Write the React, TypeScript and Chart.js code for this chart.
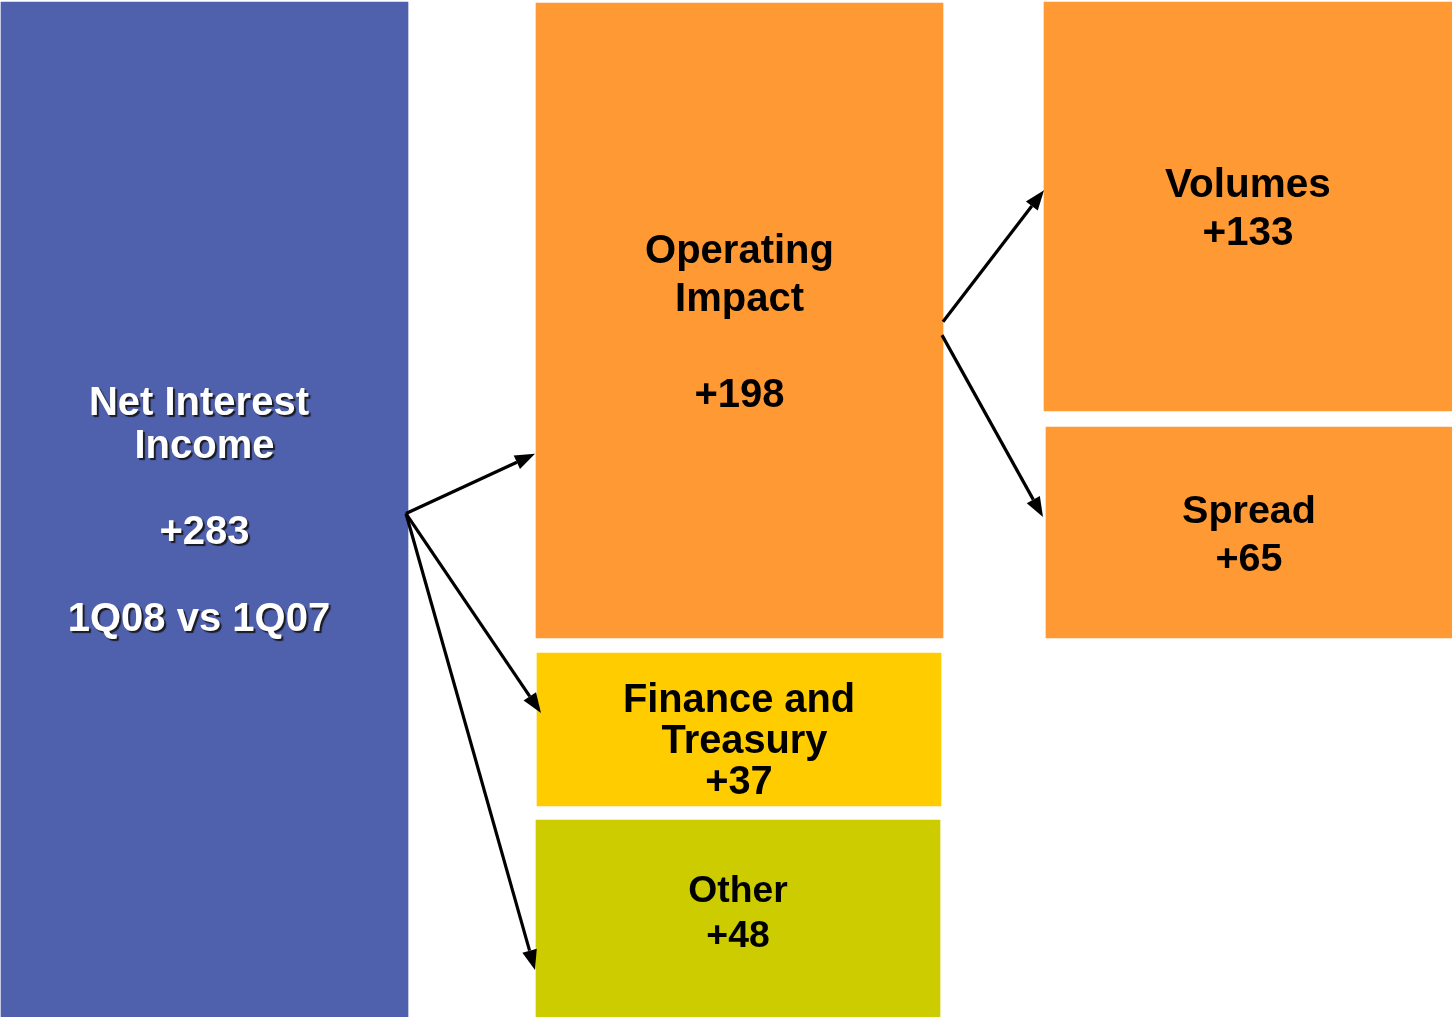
import React, { useEffect, useRef } from "react";
import { Chart, registerables } from "chart.js";

Chart.register(...registerables);

// ---- data ----
const boxNames = ["Net Interest Income", "Operating Impact", "Finance and Treasury", "Other", "Volumes", "Spread"];
const boxValues = [283, 198, 37, 48, 133, 65];
const boxLabelLines = [
  ["Net Interest ", "Income", "", "+283", "", "1Q08 vs 1Q07 "],
  ["Operating", "Impact", "", "+198"],
  ["Finance and", " Treasury", "+37"],
  ["Other", "+48"],
  ["Volumes", "+133"],
  ["Spread", "+65"],
];
// box extents in chart units (x: 0..1452, y: 0..1017 top-down)
const boxLeft = [1, 536, 537, 536, 1044, 1046];
const boxRight = [408, 943, 941, 940, 1452, 1452];
const boxTop = [2, 3, 653, 820, 2, 427];
const boxBottom = [1017, 638, 806, 1017, 411, 638];
// decomposition links: [source, target]
const linkSource = [0, 0, 0, 1, 1];
const linkTarget = [1, 2, 3, 4, 5];

// ---- styles ----
const boxColors = ["#4F60AD", "#FF9933", "#FFCC00", "#CCCC00", "#FF9933", "#FF9933"];
const textColors = ["#FFFFFF", "#000000", "#000000", "#000000", "#000000", "#000000"];
const fontSizes = [40, 40, 39.8, 37.3, 40.5, 39.5];
const lineHeights = [43.2, 48, 41, 45, 48, 48];
const labelShift = [0, 1.5, 11, -6, 1.5, 1.5];
const linkStartFrac = [0.504, 0.504, 0.504, 0.502, 0.523];
const linkEndFrac = [0.71, 0.392, 0.761, 0.46, 0.427];
const linkStartDx = [-2, -2, -2, 0, -1];
const linkEndDx = [-1, 4, -1, 0, -3];

const W = 1452;
const H = 1017;

const decorPlugin = {
  id: "decor",
  afterDatasetsDraw(chart: any) {
    const ctx = chart.ctx as CanvasRenderingContext2D;
    const xs = chart.scales.x;
    const ys = chart.scales.y;
    // arrows
    ctx.save();
    ctx.strokeStyle = "#000";
    ctx.fillStyle = "#000";
    ctx.lineWidth = 3.2;
    linkSource.forEach((s, i) => {
      const t = linkTarget[i];
      const sy = boxTop[s] + (boxBottom[s] - boxTop[s]) * linkStartFrac[i];
      const ty = boxTop[t] + (boxBottom[t] - boxTop[t]) * linkEndFrac[i];
      const x1 = xs.getPixelForValue(boxRight[s] + linkStartDx[i]);
      const y1 = ys.getPixelForValue(sy);
      const x2 = xs.getPixelForValue(boxLeft[t] + linkEndDx[i]);
      const y2 = ys.getPixelForValue(ty);
      const ang = Math.atan2(y2 - y1, x2 - x1);
      const headLen = 20;
      const headW = 7.5;
      const bx = x2 - headLen * Math.cos(ang);
      const by = y2 - headLen * Math.sin(ang);
      ctx.beginPath();
      ctx.moveTo(x1, y1);
      ctx.lineTo(bx, by);
      ctx.stroke();
      ctx.beginPath();
      ctx.moveTo(x2, y2);
      ctx.lineTo(bx + headW * Math.sin(ang), by - headW * Math.cos(ang));
      ctx.lineTo(bx - headW * Math.sin(ang), by + headW * Math.cos(ang));
      ctx.closePath();
      ctx.fill();
    });
    ctx.restore();
    // labels
    boxLabelLines.forEach((lines, i) => {
      ctx.save();
      ctx.font = `bold ${fontSizes[i]}px "Liberation Sans", Arial, sans-serif`;
      ctx.textAlign = "center";
      ctx.textBaseline = "middle";
      ctx.fillStyle = textColors[i];
      if (i === 0) {
        ctx.shadowColor = "rgba(20,20,20,0.9)";
        ctx.shadowOffsetX = 2;
        ctx.shadowOffsetY = 2;
        ctx.shadowBlur = 1;
      }
      const cx = (xs.getPixelForValue(boxLeft[i]) + xs.getPixelForValue(boxRight[i])) / 2;
      const cy = (ys.getPixelForValue(boxTop[i]) + ys.getPixelForValue(boxBottom[i])) / 2 + labelShift[i];
      const lh = lineHeights[i];
      const n = lines.length;
      lines.forEach((ln, k) => {
        if (!ln.trim()) return;
        const y = cy + (k - (n - 1) / 2) * lh + 2;
        ctx.fillText(ln, cx, y);
      });
      ctx.restore();
    });
  },
};

export default function App() {
  const ref = useRef<HTMLCanvasElement | null>(null);
  useEffect(() => {
    if (!ref.current) return;
    const datasets = boxNames.map((name, i) => ({
      label: name,
      data: [{ x: (boxLeft[i] + boxRight[i]) / 2, y: [boxTop[i], boxBottom[i]], v: boxValues[i] }],
      backgroundColor: boxColors[i],
      borderWidth: 0,
      barThickness: boxRight[i] - boxLeft[i],
      grouped: false,
    }));
    const chart = new Chart(ref.current, {
      type: "bar",
      data: { datasets } as any,
      options: {
        animation: false,
        responsive: false,
        maintainAspectRatio: false,
        layout: { padding: 0 },
        plugins: { legend: { display: false }, tooltip: { enabled: false } },
        scales: {
          x: { type: "linear", min: 0, max: W, display: false, offset: false },
          y: { type: "linear", min: 0, max: H, reverse: true, display: false },
        },
      } as any,
      plugins: [decorPlugin],
    });
    return () => chart.destroy();
  }, []);
  return (
    <div style={{ position: "fixed", left: 0, top: 0, width: W, height: H, background: "#fff" }}>
      <canvas ref={ref} width={W} height={H} style={{ width: W, height: H, display: "block" }} />
    </div>
  );
}
